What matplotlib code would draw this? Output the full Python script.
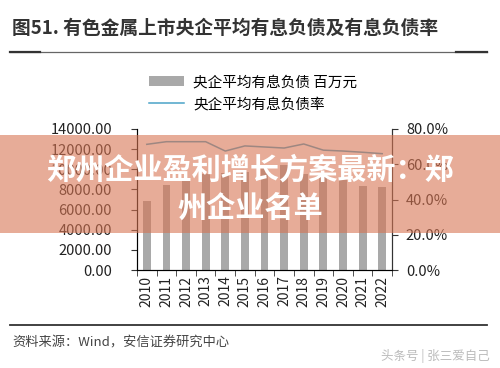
import matplotlib
matplotlib.use('Agg')
import matplotlib.pyplot as plt
from matplotlib.patches import Rectangle
from matplotlib.lines import Line2D
from matplotlib.ticker import FuncFormatter

plt.rcParams['font.family'] = ['Noto Sans CJK SC', 'DejaVu Sans']

years = ['2010', '2011', '2012', '2013', '2014', '2015', '2016',
         '2017', '2018', '2019', '2020', '2021', '2022']
debt = [6900, 8400, 9100, 9500, 9600, 9700, 10400,
        10400, 9500, 9200, 9200, 8300, 8200]
debt_ratio = [71.3, 72.8, 72.8, 72.8, 67.5, 70.4, 69.8,
              69.2, 71.5, 68.0, 67.5, 66.8, 66.0]

W, H = 500, 368
fig = plt.figure(figsize=(W / 100, H / 100), dpi=100)

ax = fig.add_axes([137 / W, 1 - 270 / H, 255 / W, 141 / H])
x = range(len(years))
bars = ax.bar(x, debt, width=0.4, color='#A9A9A9', label='央企平均有息负债 百万元')
ax.set_xlim(-0.5, len(years) - 0.5)
ax.set_ylim(0, 14000)
ax.set_yticks(range(0, 14001, 2000))
ax.yaxis.set_major_formatter(FuncFormatter(lambda v, p: '%.2f' % v))
ax.set_xticks(list(x))
ax.set_xticklabels(years, rotation=90)
ax.set_xticks([i - 0.5 for i in range(len(years) + 1)], minor=True)
ax.tick_params(axis='x', which='major', length=0, pad=4, labelsize=10, labelcolor='#222')
ax.tick_params(axis='x', which='minor', length=4, color='#333')
ax.tick_params(axis='y', length=4, color='#333', labelsize=10.5, labelcolor='#222', pad=14)
ax.spines['top'].set_visible(False)
for s in ['left', 'right', 'bottom']:
    ax.spines[s].set_color('#333')

ax2 = ax.twinx()
line, = ax2.plot(x, debt_ratio, color='#4AA3C8', lw=1.1, label='央企平均有息负债率')
ax2.set_ylim(0, 80)
ax2.set_yticks(range(0, 81, 20))
ax2.yaxis.set_major_formatter(FuncFormatter(lambda v, p: '%.1f%%' % v))
ax2.tick_params(axis='y', length=4, color='#333', labelsize=10.5, labelcolor='#222', pad=6)
ax2.spines['top'].set_visible(False)
ax2.spines['right'].set_color('#333')

fig.legend([bars, line], ['央企平均有息负债 百万元', '央企平均有息负债率'],
           loc='upper left', bbox_to_anchor=(136 / W, 1 - 62 / H),
           frameon=False, fontsize=10.5, handlelength=2.4, handleheight=0.6,
           labelspacing=0.55, handletextpad=0.6)

# title and rules
fig.text(12 / W, 1 - 28 / H, '图51. 有色金属上市央企平均有息负债及有息负债率',
         fontsize=13.5, color='#333', va='center', fontweight='bold')
fig.add_artist(Line2D([10 / W, 487 / W], [1 - 52 / H] * 2, color='#666', lw=0.9))
fig.add_artist(Line2D([10 / W, 40 / W], [1 - 52 / H] * 2, color='#333', lw=1.6))
fig.add_artist(Line2D([456 / W, 487 / W], [1 - 52 / H] * 2, color='#333', lw=1.6))
fig.add_artist(Line2D([10 / W, 487 / W], [1 - 325 / H] * 2, color='#333', lw=1.3))
fig.text(12 / W, 1 - 343 / H, '资料来源：Wind，安信证券研究中心',
         fontsize=9.5, color='#444', va='center')
fig.text(490 / W, 1 - 356 / H, '头条号 | 张三爱自己',
         fontsize=9, color='#BBBBBB', va='center', ha='right')

# banner overlay
fig.add_artist(Rectangle((0, 1 - 233 / H), 1, 98 / H, transform=fig.transFigure,
                         facecolor=(215 / 255, 117 / 255, 83 / 255), alpha=0.6,
                         edgecolor='none', zorder=5))
fig.text(0.5, 1 - 170 / H, '郑州企业盈利增长方案最新：郑', fontsize=21,
         fontweight='bold', color='white', ha='center', va='center', zorder=6)
fig.text(0.5, 1 - 208 / H, '州企业名单', fontsize=21,
         fontweight='bold', color='white', ha='center', va='center', zorder=6)

fig.savefig('out.png', dpi=100)
